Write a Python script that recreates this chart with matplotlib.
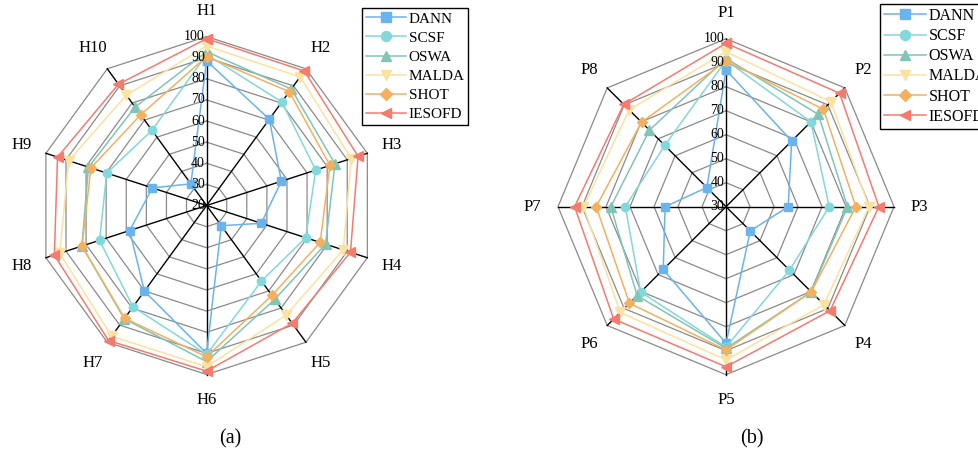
import numpy as np
import matplotlib
matplotlib.use('Agg')
import matplotlib.pyplot as plt

plt.rcParams['font.family'] = ['Liberation Serif', 'DejaVu Serif']

methods = ['DANN', 'SCSF', 'OSWA', 'MALDA', 'SHOT', 'IESOFD']
colors = ['#6AB4EE', '#82D8DA', '#80C5B5', '#FCE2A0', '#F3B061', '#F57B6E']
markers = ['s', 'o', '^', 'v', 'D', '<']
msizes = [5.5, 6, 6.5, 6.5, 5, 6.5]

# Panel (a)
h_labels = ['H1', 'H2', 'H3', 'H4', 'H5', 'H6', 'H7', 'H8', 'H9', 'H10']
dann_h = [88.5, 70.5, 57.2, 47.2, 31.8, 90.0, 70.1, 58.3, 47.0, 32.7]
scsf_h = [91.5, 80.6, 74.3, 69.3, 64.2, 90.5, 79.3, 73.3, 69.7, 64.0]
oswa_h = [92.8, 88.2, 83.9, 79.2, 74.9, 93.9, 86.3, 82.1, 78.8, 77.6]
malda_h = [95.5, 95.3, 92.0, 88.0, 84.1, 96.3, 96.5, 93.1, 88.7, 84.6]
shot_h = [90.5, 86.6, 81.4, 76.5, 72.6, 91.6, 86.0, 82.0, 77.6, 73.1]
iesofd_h = [99.0, 98.7, 95.4, 91.6, 88.9, 98.4, 99.0, 95.8, 94.2, 91.0]
ticks_h = [20, 30, 40, 50, 60, 70, 80, 90, 100]

# Panel (b)
p_labels = ['P1', 'P2', 'P3', 'P4', 'P5', 'P6', 'P7', 'P8']
dann_p = [87.0, 68.7, 55.9, 44.3, 86.9, 67.0, 55.4, 41.3]
scsf_p = [91.0, 80.0, 73.0, 67.4, 88.5, 80.3, 72.0, 66.1]
oswa_p = [91.8, 84.4, 80.6, 80.2, 89.0, 82.4, 78.0, 75.1]
malda_p = [94.6, 91.8, 89.6, 87.7, 93.9, 92.3, 89.4, 87.1]
shot_p = [90.7, 87.4, 84.1, 80.2, 89.7, 86.9, 84.1, 79.8]
iesofd_p = [98.1, 96.9, 93.7, 91.3, 96.7, 96.2, 93.1, 90.3]
ticks_p = [30, 40, 50, 60, 70, 80, 90, 100]

fig = plt.figure(figsize=(9.79, 4.51), dpi=100)


def radar(rect, labels, series, ticks, label_r, legend_anchor, lfs, lsp):
    ax = fig.add_axes(rect, projection='polar')
    ax.set_theta_zero_location('N')
    ax.set_theta_direction(-1)
    rmin, rmax = ticks[0], ticks[-1]
    ax.set_ylim(rmin, rmax)
    ax.grid(False)
    ax.spines['polar'].set_visible(False)
    ax.set_xticks([])
    ax.set_yticks([])
    n = len(labels)
    theta = np.linspace(0, 2 * np.pi, n, endpoint=False)
    tc = np.append(theta, theta[0])
    # rings
    for v in ticks[1:]:
        ax.plot(tc, [v] * (n + 1), color='#8a8a8a', lw=0.9, zorder=1, clip_on=False)
    # spokes
    for t in theta:
        ax.plot([t, t], [rmin, rmax], color='black', lw=1.0, zorder=1.5, clip_on=False)
    # tick labels
    for v in ticks:
        ax.annotate(str(v), xy=(0, v), xytext=(-1.2, 0), textcoords='offset points',
                    ha='right', va='center', fontsize=10, zorder=3)
    # category labels
    for t, lab in zip(theta, labels):
        ax.text(t, label_r, lab, ha='center', va='center', fontsize=12)
    handles = []
    for name, vals, c, m, ms in zip(methods, series, colors, markers, msizes):
        h, = ax.plot(tc, list(vals) + [vals[0]], color=c, marker=m, ms=ms, lw=1.1,
                     clip_on=False, zorder=2, label=name)
        handles.append(h)
    fig.legend(handles=handles, loc='upper left', bbox_to_anchor=legend_anchor,
               fontsize=lfs, frameon=True, fancybox=False, edgecolor='black',
               framealpha=1, handlelength=2.6, handletextpad=0.2, labelspacing=lsp,
               borderpad=0.25, borderaxespad=0, markerscale=1.2)
    return ax


radar([0.2111 - 0.1727, 0.5443 - 0.3747, 0.3453, 0.7494], h_labels,
      [dann_h, scsf_h, oswa_h, malda_h, shot_h, iesofd_h], ticks_h, 112.0,
      (362 / 979, 1 - 8 / 451), 11, 0.36)
radar([0.7416 - 0.1716, 0.5417 - 0.3725, 0.3432, 0.745], p_labels,
      [dann_p, scsf_p, oswa_p, malda_p, shot_p, iesofd_p], ticks_p, 110.7,
      (880 / 979, 1 - 4 / 451), 11.5, 0.26)

fig.text(230 / 979, 1 - 439 / 451, '(a)', ha='center', va='center', fontsize=14.5)
fig.text(752 / 979, 1 - 439 / 451, '(b)', ha='center', va='center', fontsize=14.5)

fig.savefig('out.png', dpi=100)
